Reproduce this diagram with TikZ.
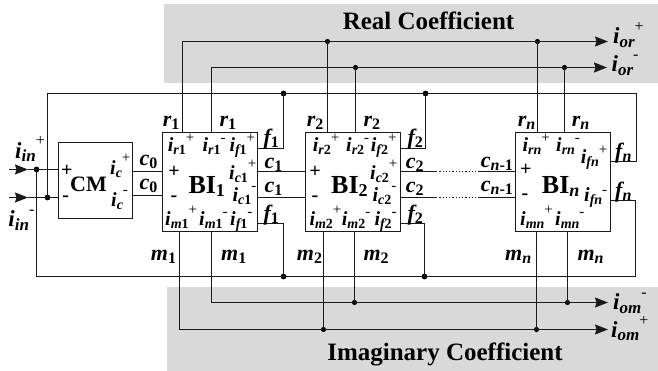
\documentclass[tikz,border=0pt]{standalone}
\usepackage{fontspec}
\setmainfont{Liberation Serif}
\usetikzlibrary{arrows.meta,positioning}
\definecolor{bandgray}{HTML}{D9D9D9}
\definecolor{wireink}{HTML}{1A1A1A}
% current label: letter, subscript, superscript
\newcommand{\curr}[4][9pt]{#2\raisebox{-3pt}{\fontsize{14}{14}\selectfont #3}\raisebox{#1}{\fontsize{15}{15}\selectfont\mdseries\upshape #4}}
\newcommand{\bigcurr}[4][12pt]{#2\raisebox{-3.5pt}{\fontsize{17}{17}\selectfont #3}\raisebox{#1}{\fontsize{16}{16}\selectfont\mdseries\upshape #4}}
\newcommand{\sigl}[2]{#1\raisebox{-3pt}{\fontsize{16}{16}\selectfont #2}}
\newcommand{\dig}[1]{{\upshape #1}}
\newcommand{\blockl}[1]{BI\raisebox{-3pt}{\fontsize{18}{18}\selectfont #1}}
\tikzset{
  wire/.style={draw=wireink, line width=1.25pt},
  flow/.style={-{Stealth[length=13pt,width=10pt,inset=1.5pt]}},
  dotted wire/.style={draw=wireink, line width=1.25pt, dotted},
  wdot/.style={circle, fill=black, inner sep=0pt, minimum size=5.8pt},
  smalldot/.style={wdot, minimum size=5.2pt},
  blockbox/.style={draw=wireink, line width=1.25pt, fill=white, inner sep=0pt,
    minimum width=95pt, minimum height=99pt},
  band/.style={fill=bandgray, inner sep=0pt},
  cur/.style={anchor=base west, inner sep=0pt, text=black,
    font=\fontsize{20}{22}\selectfont\bfseries\itshape},
  sig/.style={cur, font=\fontsize{22}{24}\selectfont\bfseries\itshape},
  bigcur/.style={cur, font=\fontsize{23}{25}\selectfont\bfseries\itshape},
  sgn/.style={inner sep=0pt, text=black, font=\fontsize{20}{22}\selectfont\bfseries},
  blocktxt/.style={anchor=base west, inner sep=0pt, text=black,
    font=\fontsize{26}{28}\selectfont\bfseries},
  titletxt/.style={anchor=base, inner sep=0pt, text=black,
    font=\fontsize{25}{27}\selectfont\bfseries},
}
\begin{document}
\begin{tikzpicture}[x=1pt,y=-1pt]
\useasboundingbox (0,0) rectangle (658,371);

% coefficient bands
\node[band,minimum width=494.3pt,minimum height=79.5pt] (realband) at (410.85,43.75) {};
\node[band,minimum width=491pt,minimum height=84.2pt] (imagband) at (412.5,328.9) {};
\node[titletxt] (realtitle) at (428.5,29.6) {Real Coefficient};
\node[titletxt] (imagtitle) at (445,360) {Imaginary Coefficient};

% blocks
\node[draw=wireink,line width=1.25pt,fill=white,inner sep=0pt,minimum width=74pt,minimum height=76pt] (cm) at (95.5,180.5) {};
\node[blockbox] (bi1) at (210,182) {};
\node[blockbox] (bi2) at (353,182) {};
\node[blockbox] (bin) at (563,182) {};

% end points
\coordinate (inp) at (9,169.5);
\coordinate (inptip) at (28,169.5);
\coordinate (inm) at (9,197.5);
\coordinate (inmtip) at (28,197.5);
\coordinate (cmp) at (58.5,169.5);
\coordinate (cmm) at (58.5,197.5);
\coordinate (cm0p) at (132.5,171.5);
\coordinate (cm0m) at (132.5,195.5);
\coordinate (bi1c0p) at (162.5,171.5);
\coordinate (bi1c0m) at (162.5,195.5);
\coordinate (bi1cp) at (257.5,171.5);
\coordinate (bi1cm) at (257.5,197.5);
\coordinate (bi2c0p) at (305.5,171.5);
\coordinate (bi2c0m) at (305.5,197.5);
\coordinate (bi2cp) at (400.5,171.5);
\coordinate (bi2cm) at (400.5,197.5);
\coordinate (dotsp) at (436,171.5);
\coordinate (dotsm) at (436,197.5);
\coordinate (dotep) at (480,171.5);
\coordinate (dotem) at (480,197.5);
\coordinate (bincp) at (515.5,171.5);
\coordinate (bincm) at (515.5,197.5);
\coordinate (bi1fp) at (257.5,148.5);
\coordinate (bi1fm) at (257.5,223.5);
\coordinate (bi2fp) at (400.5,148.5);
\coordinate (bi2fm) at (400.5,223.5);
\coordinate (binfp) at (610.5,161.5);
\coordinate (binfm) at (610.5,200.5);
\coordinate (bi1rp) at (182.5,132.5);
\coordinate (bi1rm) at (211.5,132.5);
\coordinate (bi2rp) at (327.5,132.5);
\coordinate (bi2rm) at (355.5,132.5);
\coordinate (binrp) at (537.5,132.5);
\coordinate (binrm) at (564.5,132.5);
\coordinate (bi1mp) at (179.5,231.5);
\coordinate (bi1mm) at (211.5,231.5);
\coordinate (bi2mp) at (323.5,231.5);
\coordinate (bi2mm) at (354.5,231.5);
\coordinate (binmp) at (536.5,231.5);
\coordinate (binmm) at (567.5,231.5);
\coordinate (orp) at (608,41.5);
\coordinate (orm) at (607,67.5);
\coordinate (omm) at (608,302.5);
\coordinate (omp) at (608,329.5);
\coordinate (bustr) at (636.5,93.5);
\coordinate (busbr) at (635.5,276.5);

% junctions
\node[wdot] (jinp) at (36.5,169.5) {};
\node[wdot] (jinm) at (47.5,197.5) {};
\node[wdot] (jf1p) at (283.5,93.5) {};
\node[wdot] (jf2p) at (425.5,93.5) {};
\node[wdot] (jf1m) at (283.5,276.5) {};
\node[wdot] (jf2m) at (424.5,276.5) {};
\node[smalldot] (jr2p) at (327.5,41.5) {};
\node[smalldot] (jrnp) at (537.5,41.5) {};
\node[smalldot] (jr2m) at (355.5,67.5) {};
\node[smalldot] (jrnm) at (564.5,67.5) {};
\node[smalldot] (jm2m) at (354.5,302.5) {};
\node[smalldot] (jmnm) at (567.5,302.5) {};
\node[smalldot] (jm2p) at (323.5,329.5) {};
\node[smalldot] (jmnp) at (536.5,329.5) {};

% inputs
\draw[wire,flow] (inp) -- (inptip);
\draw[wire,flow] (inm) -- (inmtip);
\draw[wire] (inptip) -- (cmp);
\draw[wire] (inmtip) -- (cmm);

% feedback buses
\draw[wire] (jinm.center) |- (jf1p.center) -- (jf2p.center) -- (bustr) |- (binfp);
\draw[wire] (jinp.center) |- (jf1m.center) -- (jf2m.center) -- (busbr) |- (binfm);
\draw[wire] (bi1fp) -| (jf1p.center);
\draw[wire] (bi2fp) -| (jf2p.center);
\draw[wire] (bi1fm) -| (jf1m.center);
\draw[wire] (bi2fm) -| (jf2m.center);

% links between blocks
\draw[wire] (cm0p) -- (bi1c0p);
\draw[wire] (cm0m) -- (bi1c0m);
\draw[wire] (bi1cp) -- (bi2c0p);
\draw[wire] (bi1cm) -- (bi2c0m);
\draw[wire] (bi2cp) -- (dotsp);
\draw[wire] (bi2cm) -- (dotsm);
\draw[dotted wire] (dotsp) -- (dotep);
\draw[dotted wire] (dotsm) -- (dotem);
\draw[wire] (dotep) -- (bincp);
\draw[wire] (dotem) -- (bincm);

% real outputs
\draw[wire,flow] (bi1rp) |- (orp);
\draw[wire,flow] (bi1rm) |- (orm);
\draw[wire] (bi2rp) -- (jr2p.center);
\draw[wire] (binrp) -- (jrnp.center);
\draw[wire] (bi2rm) -- (jr2m.center);
\draw[wire] (binrm) -- (jrnm.center);

% imaginary outputs
\draw[wire,flow] (bi1mm) |- (omm);
\draw[wire,flow] (bi1mp) |- (omp);
\draw[wire] (bi2mm) -- (jm2m.center);
\draw[wire] (binmm) -- (jmnm.center);
\draw[wire] (bi2mp) -- (jm2p.center);
\draw[wire] (binmp) -- (jmnp.center);

% input and output labels
\node[bigcur] (linp) at (15,158.3) {\bigcurr[13pt]{i}{in}{+}};
\node[bigcur] (linm) at (8.3,226.7) {\bigcurr{i}{in}{-}};
\node[bigcur] (lorp) at (613,44) {\bigcurr{i}{or}{+}};
\node[bigcur] (lorm) at (611.5,72) {\bigcurr{i}{or}{-}};
\node[bigcur] (lomm) at (613,309.7) {\bigcurr{i}{om}{-}};
\node[bigcur] (lomp) at (611,337) {\bigcurr{i}{om}{+}};

% CM
\node[blocktxt,font=\fontsize{22}{24}\selectfont\bfseries] (lcm) at (70,191.7) {CM};
\node[sgn] (lcmp) at (66.7,170.7) {+};
\node[sgn] (lcmm) at (65.7,199) {-};
\node[cur] (licp) at (110,175) {\curr[12pt]{i}{c}{+}};
\node[cur] (licm) at (111,206.7) {\curr[12pt]{i}{c}{-}};
\node[sig] (lc0p) at (139.3,166) {\sigl{c}{\dig{0}}};
\node[sig] (lc0m) at (139.3,190) {\sigl{c}{\dig{0}}};

% BI 1
\node[blocktxt] (lbi1) at (188.3,193.3) {\blockl{1}};
\node[sgn] (lbi1p) at (174,172.3) {+};
\node[sgn] (lbi1m) at (174,198.3) {-};
\node[cur] (lir1p) at (167.7,152) {\curr{i}{r\dig{1}}{+}};
\node[cur] (lir1m) at (202.3,152) {\curr{i}{r\dig{1}}{-}};
\node[cur] (lif1p) at (229.3,152) {\curr{i}{f\dig{1}}{+}};
\node[cur] (lic1p) at (229,180) {\curr[11pt]{i}{c\dig{1}}{+}};
\node[cur] (lic1m) at (232.3,201.7) {\curr[11pt]{i}{c\dig{1}}{-}};
\node[cur] (lim1p) at (165,225.7) {\curr[11pt]{i}{m\dig{1}}{+}};
\node[cur] (lim1m) at (199,225.7) {\curr{i}{m\dig{1}}{-}};
\node[cur] (lif1m) at (230,225.7) {\curr{i}{f\dig{1}}{-}};
\node[sig] (lr1a) at (162.7,126.7) {\sigl{r}{\dig{1}}};
\node[sig] (lr1b) at (219.3,126.7) {\sigl{r}{\dig{1}}};
\node[sig] (lf1a) at (263.3,145) {\sigl{f}{\dig{1}}};
\node[sig] (lc1a) at (264.3,168.3) {\sigl{c}{\dig{1}}};
\node[sig] (lc1b) at (264.3,192.7) {\sigl{c}{\dig{1}}};
\node[sig] (lf1b) at (263.3,220.7) {\sigl{f}{\dig{1}}};
\node[sig] (lm1a) at (150.7,260.7) {\sigl{m}{\dig{1}}};
\node[sig] (lm1b) at (221,260.7) {\sigl{m}{\dig{1}}};

% BI 2
\node[blocktxt] (lbi2) at (331,193.3) {\blockl{2}};
\node[sgn] (lbi2p) at (315,172.3) {+};
\node[sgn] (lbi2m) at (315,198.3) {-};
\node[cur] (lir2p) at (312.7,152) {\curr{i}{r\dig{2}}{+}};
\node[cur] (lir2m) at (346,152) {\curr{i}{r\dig{2}}{-}};
\node[cur] (lif2p) at (370.7,152) {\curr{i}{f\dig{2}}{+}};
\node[cur] (lic2p) at (370,180) {\curr[11pt]{i}{c\dig{2}}{+}};
\node[cur] (lic2m) at (372.3,201.7) {\curr[11pt]{i}{c\dig{2}}{-}};
\node[cur] (lim2p) at (309.3,225.7) {\curr[11pt]{i}{m\dig{2}}{+}};
\node[cur] (lim2m) at (341.7,225.7) {\curr{i}{m\dig{2}}{-}};
\node[cur] (lif2m) at (374.3,225.7) {\curr{i}{f\dig{2}}{-}};
\node[sig] (lr2a) at (306.7,126.7) {\sigl{r}{\dig{2}}};
\node[sig] (lr2b) at (363.3,126.7) {\sigl{r}{\dig{2}}};
\node[sig] (lf2a) at (407.3,145) {\sigl{f}{\dig{2}}};
\node[sig] (lc2a) at (405.7,168.3) {\sigl{c}{\dig{2}}};
\node[sig] (lc2b) at (405.7,192.7) {\sigl{c}{\dig{2}}};
\node[sig] (lf2b) at (407.3,220.7) {\sigl{f}{\dig{2}}};
\node[sig] (lm2a) at (296.7,260.7) {\sigl{m}{\dig{2}}};
\node[sig] (lm2b) at (363.3,260.7) {\sigl{m}{\dig{2}}};

% BI n
\node[blocktxt] (lbin) at (541.7,193.3) {\blockl{\itshape n}};
\node[sgn] (lbinp) at (525.7,170) {+};
\node[sgn] (lbinm) at (525,196.7) {-};
\node[cur] (lirnp) at (522.3,152) {\curr{i}{rn}{+}};
\node[cur] (lirnm) at (556,152) {\curr{i}{rn}{-}};
\node[cur] (lifnp) at (580.7,163.3) {\curr{i}{fn}{+}};
\node[cur] (lifnm) at (584,201.7) {\curr[7pt]{i}{fn}{-}};
\node[cur] (limnp) at (520,225.7) {\curr[11pt]{i}{mn}{+}};
\node[cur] (limnm) at (555,225.7) {\curr{i}{mn}{-}};
\node[sig] (lrna) at (517.7,126.7) {\sigl{r}{n}};
\node[sig] (lrnb) at (571.7,126.7) {\sigl{r}{n}};
\node[sig] (lfna) at (615,159) {\sigl{f}{n}};
\node[sig] (lfnb) at (615,197.7) {\sigl{f}{n}};
\node[sig] (lcna) at (480.7,167.3) {\sigl{c}{n\dig{-1}}};
\node[sig] (lcnb) at (480.7,191.7) {\sigl{c}{n\dig{-1}}};
\node[sig] (lmna) at (505,260.7) {\sigl{m}{n}};
\node[sig] (lmnb) at (577.3,260.7) {\sigl{m}{n}};

\end{tikzpicture}
\end{document}
